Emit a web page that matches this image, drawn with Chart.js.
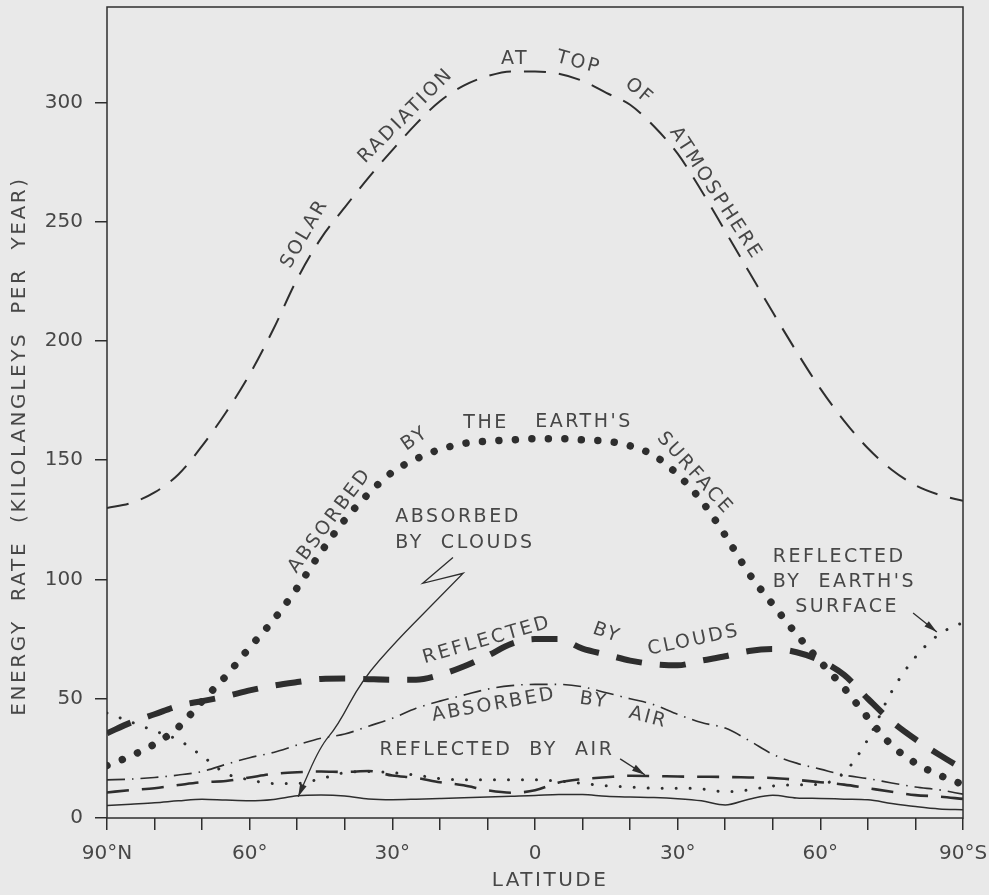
<!DOCTYPE html>
<html>
<head>
<meta charset="utf-8">
<title>Energy rate by latitude</title>
<script src="https://cdn.jsdelivr.net/npm/chart.js@4.4.1/dist/chart.umd.min.js"></script>
<style>
  html, body { margin: 0; padding: 0; background: #e9e9e9; }
  #wrap { width: 989px; height: 895px; position: relative; }
</style>
</head>
<body>
<div id="wrap"><canvas id="energyChart"></canvas></div>
<script>
// Latitude samples, 90°N (-90) to 90°S (+90), every 5 degrees
const lats = [-90, -85, -80, -75, -70, -65, -60, -55, -50, -45, -40, -35, -30, -25, -20, -15, -10, -5, 0,
              5, 10, 15, 20, 25, 30, 35, 40, 45, 50, 55, 60, 65, 70, 75, 80, 85, 90];

// Energy rate, kilolangleys per year
const solarTop = [130, 132, 136.5, 144, 156, 170, 186, 205, 226, 243, 256, 268.5, 280, 291, 300.5, 307, 311, 313, 313,
                  312, 309, 304, 299, 290, 278.5, 263, 246, 229, 212, 195.5, 180, 166.5, 155, 146, 139.5, 135.5, 133];
const absorbedSurface = [22, 26, 31, 38, 49, 59.5, 71.5, 83, 96.5, 111.5, 125, 136, 145, 150.5, 154.5, 157, 158, 158.5, 159,
                         159, 158.5, 158, 156, 152, 144, 133, 118.5, 102.5, 89.5, 77, 65.5, 54.5, 42, 30.5, 23, 18, 14];
const reflectedClouds = [35.5, 40, 43.5, 47, 49, 51, 53.5, 55.5, 57, 58.3, 58.5, 58.2, 58, 58, 60, 63.5, 68, 73, 75,
                         75, 71, 68.5, 66, 64.5, 64, 66, 67.8, 70, 70.8, 69.5, 66, 60, 50, 40.5, 33, 26.5, 20.5];
const absorbedAir = [16, 16.3, 17, 18, 19.5, 22.5, 25.3, 27.5, 30.6, 33.4, 35.2, 38.5, 41.8, 46, 49, 51.5, 54, 55.5, 56,
                     56, 55, 52.5, 50, 47.5, 43.5, 40, 37.7, 32.5, 26.7, 23, 20.5, 18, 16.5, 14.7, 13, 11.8, 10];
const reflectedAir = [10.7, 11.7, 12.5, 13.8, 15, 15.5, 17, 18.5, 19.2, 19.5, 19.3, 19.7, 17.8, 16.8, 15, 13.7, 11.6, 10.6, 11.6,
                      14.9, 16.3, 17.1, 17.7, 17.6, 17.4, 17.3, 17.2, 17, 16.8, 16, 15, 14, 12.5, 11, 9.6, 9, 8];
const reflectedSurface = [44, 40.3, 36.5, 32.7, 26, 18.7, 16, 14.5, 14.5, 16.5, 19, 19.5, 19, 18, 16.5, 16, 16, 16, 16,
                          15.5, 14.5, 13.5, 13, 12.5, 12.5, 12.2, 11, 11.8, 13.4, 13.9, 14.2, 19, 33, 53, 67.5, 77, 82];
const absorbedClouds = [5.2, 5.8, 6.4, 7.2, 7.9, 7.5, 7.2, 7.8, 9.3, 9.6, 9.2, 8, 7.7, 7.9, 8.2, 8.5, 8.8, 9.1, 9.4,
                        9.9, 9.8, 9.1, 8.8, 8.6, 8.1, 7.2, 5.5, 7.9, 9.5, 8.4, 8.2, 7.9, 7.6, 6.1, 4.8, 3.8, 3.5];

// Axis ticks
const latTicks = [-90, -60, -30, 0, 30, 60, 90];
const latTickLabels = ['90°N', '60°', '30°', '0', '30°', '60°', '90°S'];

const ink = '#2e2e2e';
const textInk = '#474747';
const fontFamily = "'DejaVu Sans', 'Liberation Sans', sans-serif";

// Words lettered along the curves: [text, latitude, value, rotation in degrees]
const curveNotes = [
    ['SOLAR', -48.4, 245, -60],
    ['RADIATION', -27.1, 294.4, -45],
    ['AT', -4.2, 318.3, 0],
    ['TOP', 9.2, 316.6, 15],
    ['OF', 21.9, 304.5, 40],
    ['ATMOSPHERE', 38, 261.8, 57],
    ['ABSORBED', -43.1, 124.7, -53],
    ['BY', -25.2, 159, -35],
    ['THE', -10.3, 165.7, 0],
    ["EARTH'S", 10.3, 166.1, 0],
    ['SURFACE', 33.6, 144.4, 48],
    ['REFLECTED', -10.1, 74.5, -16],
    ['BY', 15.1, 77.5, 20],
    ['CLOUDS', 33.4, 74.5, -12],
    ['ABSORBED', -8.6, 47.4, -10],
    ['BY', 12.4, 49.2, 8],
    ['AIR', 23.8, 42, 15],
    ['REFLECTED  BY  AIR', -8, 28.6, 0]
];

// Left aligned label blocks: [text, latitude, value]
const blockNotes = [
    ['ABSORBED', -29.4, 126],
    ['BY  CLOUDS', -29.4, 115.1],
    ['REFLECTED', 50, 109.4],
    ["BY  EARTH'S", 50, 98.9],
    ['SURFACE', 54.7, 88.4]
];

// Pointer lines: lists of [latitude, value], arrow head on the last point
const pointers = [
    [[17.9, 24.8], [23.1, 18.1]],
    [[79.5, 85.9], [84.5, 78]]
];
const cloudPointer = [[-17.25, 109.2], [-23.6, 98.4], [-15.1, 102.6], [-22.1, 88.4], [-29, 74.5],
                      [-36.4, 57.8], [-41.6, 38.3], [-45.2, 29.9], [-49.8, 8.9]];

function toPoints(values) {
    return lats.map((lat, i) => ({ x: lat, y: values[i] }));
}

function arrowHead(ctx, fromX, fromY, toX, toY) {
    const a = Math.atan2(toY - fromY, toX - fromX);
    const len = 13, half = 3.5;
    ctx.beginPath();
    ctx.moveTo(toX, toY);
    ctx.lineTo(toX - len * Math.cos(a) + half * Math.sin(a), toY - len * Math.sin(a) - half * Math.cos(a));
    ctx.lineTo(toX - len * Math.cos(a) - half * Math.sin(a), toY - len * Math.sin(a) + half * Math.cos(a));
    ctx.closePath();
    ctx.fill();
}

// Frame, lettering and pointers
const notesPlugin = {
    id: 'notes',
    afterDraw(chart) {
        const { ctx, chartArea, scales } = chart;
        const px = lat => scales.x.getPixelForValue(lat);
        const py = v => scales.y.getPixelForValue(v);

        ctx.save();
        ctx.strokeStyle = ink;
        ctx.fillStyle = ink;
        ctx.lineWidth = 1.5;
        ctx.setLineDash([]);
        ctx.strokeRect(chartArea.left, chartArea.top, chartArea.right - chartArea.left, chartArea.bottom - chartArea.top);

        // simple pointers
        ctx.lineWidth = 1.3;
        pointers.forEach(p => {
            ctx.beginPath();
            ctx.moveTo(px(p[0][0]), py(p[0][1]));
            ctx.lineTo(px(p[1][0]), py(p[1][1]));
            ctx.stroke();
            arrowHead(ctx, px(p[0][0]), py(p[0][1]), px(p[1][0]), py(p[1][1]));
        });

        // zig-zag pointer for the clouds label
        const pts = cloudPointer.map(p => [px(p[0]), py(p[1])]);
        ctx.beginPath();
        ctx.moveTo(pts[0][0], pts[0][1]);
        ctx.lineTo(pts[1][0], pts[1][1]);
        ctx.lineTo(pts[2][0], pts[2][1]);
        for (let i = 3; i < pts.length - 1; i++) {
            const mx = (pts[i][0] + pts[i + 1][0]) / 2;
            const my = (pts[i][1] + pts[i + 1][1]) / 2;
            ctx.quadraticCurveTo(pts[i][0], pts[i][1], mx, my);
        }
        const last = pts[pts.length - 1];
        ctx.lineTo(last[0], last[1]);
        ctx.stroke();
        const prev = pts[pts.length - 2];
        arrowHead(ctx, prev[0], prev[1], last[0], last[1]);

        // lettering
        ctx.fillStyle = textInk;
        ctx.font = '19px ' + fontFamily;
        ctx.letterSpacing = '2.5px';
        ctx.textBaseline = 'middle';
        ctx.textAlign = 'center';
        curveNotes.forEach(n => {
            ctx.save();
            ctx.translate(px(n[1]), py(n[2]));
            ctx.rotate(n[3] * Math.PI / 180);
            ctx.fillText(n[0], 0, 0);
            ctx.restore();
        });
        ctx.textAlign = 'left';
        blockNotes.forEach(n => ctx.fillText(n[0], px(n[1]), py(n[2])));

        // axis titles
        ctx.font = '20px ' + fontFamily;
        ctx.textAlign = 'center';
        ctx.fillText('LATITUDE', 550, 881);
        ctx.save();
        ctx.translate(20, 446);
        ctx.rotate(-Math.PI / 2);
        ctx.letterSpacing = '2.6px';
        ctx.fillText('ENERGY  RATE  (KILOLANGLEYS  PER  YEAR)', 0, 0);
        ctx.restore();
        ctx.restore();
    }
};

function lineSet(label, values, width, dash, cap) {
    return {
        label: label,
        data: toPoints(values),
        borderColor: ink,
        borderWidth: width,
        borderDash: dash,
        borderCapStyle: cap || 'butt',
        pointRadius: 0,
        fill: false,
        cubicInterpolationMode: 'monotone'
    };
}

const ctx = document.getElementById('energyChart').getContext('2d');
new Chart(ctx, {
    type: 'line',
    data: {
        datasets: [
            lineSet('Solar radiation at top of atmosphere', solarTop, 2, [22, 13]),
            lineSet("Absorbed by the earth's surface", absorbedSurface, 7.5, [0.001, 16.5], 'round'),
            lineSet('Reflected by clouds', reflectedClouds, 6, [26, 18]),
            lineSet('Absorbed by air', absorbedAir, 1.6, [18, 7, 1.5, 7]),
            lineSet('Reflected by air', reflectedAir, 2.6, [22, 13]),
            lineSet("Reflected by earth's surface", reflectedSurface, 3, [0.001, 14], 'round'),
            lineSet('Absorbed by clouds', absorbedClouds, 1.5, [])
        ]
    },
    options: {
        responsive: true,
        maintainAspectRatio: false,
        animation: false,
        layout: { padding: { top: 7, right: 26, left: 0, bottom: 0 } },
        plugins: { legend: { display: false }, tooltip: { enabled: false } },
        scales: {
            x: {
                type: 'linear',
                min: -90,
                max: 90,
                afterFit: axis => {
                    axis.height = 77;
                    axis.paddingLeft = 0;
                    axis.paddingRight = 0;
                },
                border: { display: false },
                grid: { drawOnChartArea: false, drawTicks: true, tickLength: 12, color: ink, lineWidth: 1.5 },
                ticks: {
                    stepSize: 10,
                    autoSkip: false,
                    maxRotation: 0,
                    padding: 12,
                    color: textInk,
                    font: { family: fontFamily, size: 20 },
                    callback: value => {
                        const idx = latTicks.indexOf(value);
                        return idx >= 0 ? latTickLabels[idx] : '';
                    }
                }
            },
            y: {
                min: 0,
                max: 340,
                afterFit: axis => {
                    axis.width = 107;
                    axis.paddingTop = 0;
                    axis.paddingBottom = 0;
                },
                border: { display: false },
                grid: { drawOnChartArea: false, drawTicks: true, tickLength: 12, color: ink, lineWidth: 1.5 },
                ticks: {
                    stepSize: 50,
                    includeBounds: false,
                    padding: 12,
                    color: textInk,
                    font: { family: fontFamily, size: 20 }
                }
            }
        }
    },
    plugins: [notesPlugin]
});
</script>
</body>
</html>
